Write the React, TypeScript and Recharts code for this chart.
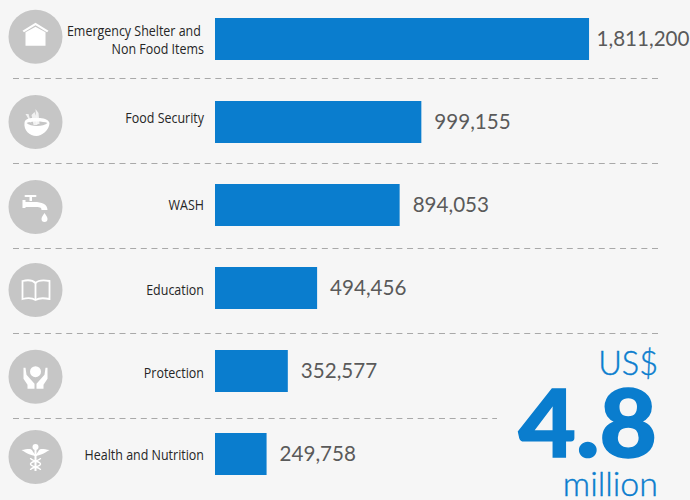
import React from "react";
import { BarChart, Bar, XAxis, YAxis, LabelList } from "recharts";

const categories = ["Emergency Shelter and|Non Food Items", "Food Security", "WASH", "Education", "Protection", "Health and Nutrition"];
const amounts = [1811200, 999155, 894053, 494456, 352577, 249758];
const data = categories.map((name, i) => ({ name, amount: amounts[i] }));

const BLUE = "#0a7dce";
const GREY = "#c6c6c6";
const BG = "#f6f6f6";
const separators = [[78, 658], [163, 658], [248, 658], [333, 658], [418, 497]];
const iconCentres = [36.7, 122, 207, 290, 376.7, 457];
const labelShift = [0, -3.5, 1, 2.5, 2.5, 2];

const CategoryTick = (props: any) => {
  const { x, y, payload, index } = props;
  const lines = String(payload.value).split("|");
  const cy = y + labelShift[index];
  const right = x - 3;
  return (
    <g transform={`translate(${right} 0) scale(0.89 1)`}>
      <text textAnchor="end" fontFamily="'Open Sans'" fontSize={14} fill="#262626">
        {lines.length === 2 ? (
          <>
            <tspan x={-3.5} y={cy - 2}>{lines[0]}</tspan>
            <tspan x={0} y={cy + 16}>{lines[1]}</tspan>
          </>
        ) : (
          <tspan x={0} y={cy + 5}>{lines[0]}</tspan>
        )}
      </text>
    </g>
  );
};

const ValueLabel = (props: any) => {
  const { x, y, width, height, value, index } = props;
  return (
    <text x={x + width + (index === 0 ? 7.5 : 13)} y={y + height / 2 + 6.5} fontFamily="Lato" fontSize={20.6} fill="#5a5a5a">
      {Number(value).toLocaleString("en-US")}
    </text>
  );
};

const icons = [
  <g key="house" fill="#fff">
    <path d="M-13,-6 L0,-14 L13,-6 L11.5,-4.5 L0,-11.5 L-11.5,-4.5 Z" />
    <path d="M-10,-4.5 L0,-10 L10,-4.5 L10,9 L-10,9 Z" />
  </g>,
  <g key="bowl" fill="#fff">
    <path d="M-11,1 C-11,-3 -6,-4 -3,-4 L3,-4 C7,-4 13,-3 14,1 C14,8 6,14 1,14 C-6,14 -12,8 -11,1 Z" />
    <path d="M-9,1 C-5,5 8,5 12,1 C8,-1 -5,-1 -9,1 Z" fill={GREY} />
    <path d="M-2,3 L-4,-7 L-1,-10 L1,-5 L2,3 Z M-4,2 L-10,-8 L-7,-8 Z" opacity={0.75} />
    <path d="M1,2 L0,-13 L3,-9 L4,2 Z" opacity={0.75} />
  </g>,
  <g key="tap" fill="#fff">
    <rect x={-11} y={-12} width={12} height={2} rx={1} />
    <rect x={-6} y={-11} width={2.5} height={5} />
    <path d="M-13,-7 L-10,-7 L-10,-5 L-1,-5 C6,-5 12,-3 12,3 L6,3 C6,0 4,0 -1,0 L-10,0 L-10,1 L-13,1 Z" />
    <path d="M9,6 C11,9 12,10 12,12 A3,3 0 0 1 6,12 C6,10 7,9 9,6 Z" />
  </g>,
  <g key="book" fill="none" stroke="#fff" strokeWidth={1.8}>
    <path d="M0,-7 C-3,-10 -9,-10 -13,-9 L-13,9 C-9,8 -3,8 0,10 C3,8 9,8 14,9 L14,-9 C9,-10 3,-10 0,-7 Z" />
    <path d="M0,-7 L0,10" />
  </g>,
  <g key="hands" fill="#fff">
    <circle cx={0} cy={-5} r={5.5} />
    <path d="M-12,-9 L-10,-9 L-9,-2 L-1,7 L-1,12 L-8,12 L-8,8 L-12,2 Z" />
    <path d="M12,-9 L10,-9 L9,-2 L1,7 L1,12 L8,12 L8,8 L12,2 Z" />
  </g>,
  <g key="caduceus">
    <g fill="#fff">
      <path d="M-14,-7 C-8,-8 -4,-9 -3,-6 L-1,-3 L1,-3 L3,-6 C4,-9 8,-8 14,-7 C8,-3 4,-2 1,-1 L-1,-1 C-4,-2 -8,-3 -14,-7 Z" />
      <circle cx={0} cy={-10} r={3} />
      <rect x={-1} y={-8} width={2} height={22} />
    </g>
    <path d="M-5,1 C-5,4 5,4 5,7 C5,10 -5,10 -5,13 M5,1 C5,4 -5,4 -5,7 C-5,10 5,10 5,13" fill="none" stroke="#fff" strokeWidth={1.4} />
  </g>,
];

export default function App() {
  return (
    <div style={{ position: "absolute", left: 0, top: 0, width: 690, height: 500, background: BG, overflow: "hidden" }}>
      <div style={{ position: "absolute", left: 0, top: -3 }}>
        <BarChart
          width={690}
          height={498}
          layout="vertical"
          data={data}
          margin={{ top: 0, right: 0, bottom: 0, left: 0 }}
          barCategoryGap={0}
        >
          <XAxis type="number" hide domain={[0, 2300000]} />
          <YAxis
            type="category"
            dataKey="name"
            width={215}
            axisLine={false}
            tickLine={false}
            interval={0}
            tick={<CategoryTick />}
          />
          <Bar dataKey="amount" fill={BLUE} barSize={42} isAnimationActive={false}>
            <LabelList dataKey="amount" content={<ValueLabel />} />
          </Bar>
        </BarChart>
      </div>
      <svg width={690} height={500} style={{ position: "absolute", left: 0, top: 0, pointerEvents: "none" }}>
        {separators.map(([y, x2]) => (
          <line key={y} x1={13} x2={x2} y1={y + 0.5} y2={y + 0.5} stroke="#a9a9a9" strokeWidth={1} strokeDasharray="6 4.65" />
        ))}
        {iconCentres.map((cy, i) => (
          <g key={i} transform={`translate(35.5 ${cy})`}>
            <circle r={27} fill={GREY} />
            {icons[i]}
          </g>
        ))}
        <text x={658} y={375} textAnchor="end" fontFamily="Lato" fontWeight={300} fontSize={32.5} fill={BLUE} stroke={BLUE} strokeWidth={0.4}>US$</text>
        <g transform="translate(657 457) scale(1.065 1)">
          <text x={0} y={0} textAnchor="end" fontFamily="Lato" fontWeight={900} fontSize={93} fill={BLUE} stroke={BLUE} strokeWidth={1.5}>4.8</text>
        </g>
        <text x={658} y={496} textAnchor="end" fontFamily="Lato" fontWeight={300} fontSize={34} fill={BLUE} stroke={BLUE} strokeWidth={0.4}>million</text>
      </svg>
    </div>
  );
}
